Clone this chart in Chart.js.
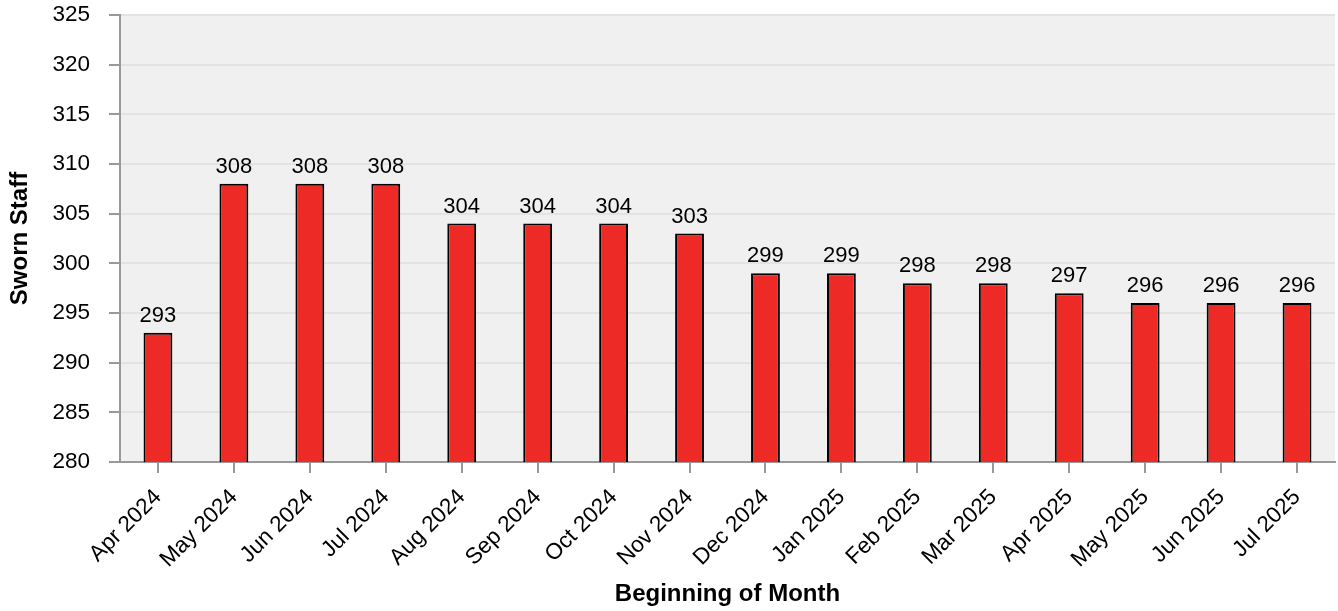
<!DOCTYPE html>
<html>
<head>
<meta charset="utf-8">
<script src="https://cdn.jsdelivr.net/npm/chart.js@4.4.1/dist/chart.umd.min.js"></script>
<style>
  html, body { margin: 0; padding: 0; background: #ffffff; }
  #wrap { width: 1338px; height: 611px; position: relative; }
</style>
</head>
<body>
<div id="wrap"><canvas id="grafica"></canvas></div>
<script>
// datos del grafico
const meses = ['Apr 2024', 'May 2024', 'Jun 2024', 'Jul 2024', 'Aug 2024', 'Sep 2024', 'Oct 2024', 'Nov 2024',
               'Dec 2024', 'Jan 2025', 'Feb 2025', 'Mar 2025', 'Apr 2025', 'May 2025', 'Jun 2025', 'Jul 2025'];
const personal = [293, 308, 308, 308, 304, 304, 304, 303, 299, 299, 298, 298, 297, 296, 296, 296];
const ejeMin = 280;
const ejeMax = 325;
const paso = 5;

const FUENTE = "'Liberation Sans', Arial, sans-serif";

// fondo gris del area de trazado
const fondoPlot = {
    id: 'fondoPlot',
    beforeDraw(chart) {
        const { ctx, chartArea: a } = chart;
        ctx.save();
        ctx.fillStyle = '#f0f0f0';
        ctx.fillRect(a.left, a.top, a.right - a.left, a.bottom - a.top);
        ctx.restore();
    }
};

// etiquetas de valor sobre cada barra
const etiquetasValor = {
    id: 'etiquetasValor',
    afterDatasetsDraw(chart) {
        const { ctx } = chart;
        const meta = chart.getDatasetMeta(0);
        ctx.save();
        ctx.font = '22px ' + FUENTE;
        ctx.fillStyle = '#000';
        ctx.textAlign = 'center';
        ctx.textBaseline = 'alphabetic';
        meta.data.forEach((bar, i) => {
            ctx.fillText(String(personal[i]), bar.x, bar.y - 11);
        });
        ctx.restore();
    }
};

new Chart(document.getElementById('grafica'), {
    type: 'bar',
    data: {
        labels: meses,
        datasets: [{
            data: personal,
            backgroundColor: '#ee2a27',
            borderColor: '#000000',
            borderWidth: 2,
            borderSkipped: 'bottom',
            categoryPercentage: 1,
            barPercentage: 0.38
        }]
    },
    options: {
        responsive: true,
        maintainAspectRatio: false,
        animation: false,
        layout: { padding: { top: 15, right: 3, bottom: 0, left: 0 } },
        plugins: {
            legend: { display: false },
            tooltip: { enabled: false }
        },
        scales: {
            x: {
                grid: {
                    display: true,
                    offset: false,
                    drawOnChartArea: false,
                    drawTicks: true,
                    tickLength: 11,
                    tickColor: '#999999',
                    lineWidth: 2
                },
                border: { color: '#999999', width: 2 },
                ticks: {
                    color: '#000',
                    font: { family: FUENTE, size: 22.5 },
                    maxRotation: 45,
                    minRotation: 45,
                    padding: 11
                },
                title: {
                    display: true,
                    text: 'Beginning of Month',
                    color: '#000',
                    font: { family: FUENTE, size: 24, weight: 'bold' },
                    padding: { top: 8, bottom: 2 }
                },
                afterFit(scale) {
                    scale.height = 149;
                    scale.paddingLeft = 0;
                    scale.paddingRight = 0;
                }
            },
            y: {
                min: ejeMin,
                max: ejeMax,
                grid: {
                    color: '#e3e3e3',
                    lineWidth: 2,
                    drawTicks: true,
                    tickLength: 11,
                    tickColor: '#999999'
                },
                border: { color: '#999999', width: 2 },
                ticks: {
                    stepSize: paso,
                    color: '#000',
                    font: { family: FUENTE, size: 22.5 },
                    padding: 19
                },
                title: {
                    display: true,
                    text: 'Sworn Staff',
                    color: '#000',
                    font: { family: FUENTE, size: 24, weight: 'bold' },
                    padding: { top: 6, bottom: 0 }
                },
                afterFit(scale) {
                    scale.width = 120;
                    scale.paddingTop = 0;
                    scale.paddingBottom = 0;
                }
            }
        }
    },
    plugins: [fondoPlot, etiquetasValor]
});
</script>
</body>
</html>
